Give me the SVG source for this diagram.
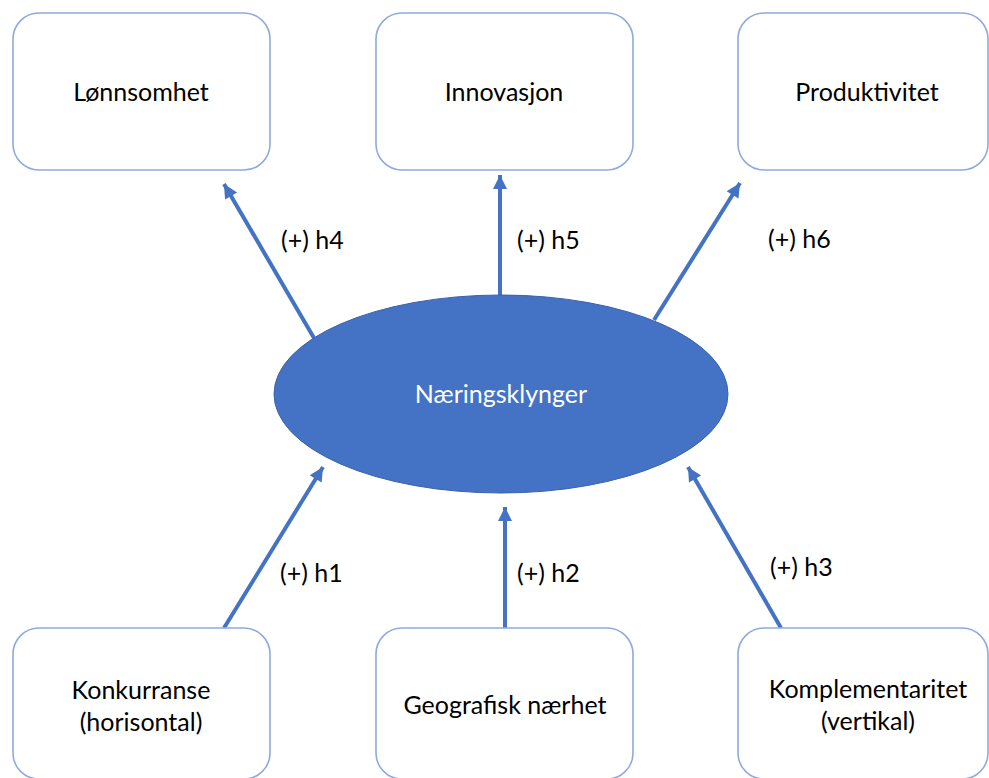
<svg xmlns="http://www.w3.org/2000/svg" width="989" height="778" viewBox="0 0 989 778">
<style>
.box{fill:#ffffff;stroke:#8FAADC;stroke-width:1.6}
.t{font-family:Lato,"Liberation Sans",sans-serif;font-size:25px;fill:#000000;text-anchor:middle}
.lbl{font-family:Lato,"Liberation Sans",sans-serif;font-size:25px;fill:#000000}
.wt{font-family:Lato,"Liberation Sans",sans-serif;font-size:25px;fill:#ffffff;text-anchor:middle}
.c{stroke:#4472C4;stroke-width:4;fill:none;marker-end:url(#ah)}
</style>
<defs>
<marker id="ah" markerUnits="userSpaceOnUse" markerWidth="16" markerHeight="16" viewBox="0 0 16 16" refX="15" refY="8" orient="auto">
<path d="M1,1 L15,8 L1,15 Z" fill="#4472C4"/>
</marker>
</defs>
<rect width="989" height="778" fill="#ffffff"/>
<g id="connectors">
<line class="c" x1="314" y1="338" x2="224" y2="184"/>
<line class="c" x1="500" y1="295" x2="500" y2="175"/>
<line class="c" x1="654" y1="320" x2="740" y2="183"/>
<line class="c" x1="224" y1="628" x2="323" y2="467"/>
<line class="c" x1="505" y1="628" x2="505" y2="507"/>
<line class="c" x1="781" y1="628" x2="688" y2="467"/>
<text class="lbl" x="281" y="249">(+) h4</text>
<text class="lbl" x="517" y="249">(+) h5</text>
<text class="lbl" x="768" y="248">(+) h6</text>
<text class="lbl" x="280" y="582">(+) h1</text>
<text class="lbl" x="517" y="582">(+) h2</text>
<text class="lbl" x="770" y="576">(+) h3</text>
</g>
<g id="lonnsomhet">
<rect class="box" x="13" y="13" width="257" height="157" rx="26"/>
<text class="t" x="141" y="101">Lønnsomhet</text>
</g>
<g id="innovasjon">
<rect class="box" x="376" y="13" width="257" height="157" rx="26"/>
<text class="t" x="504" y="101">Innovasjon</text>
</g>
<g id="produktivitet">
<rect class="box" x="738" y="13" width="250" height="157" rx="26"/>
<text class="t" x="867" y="101">Produktivitet</text>
</g>
<g id="naeringsklynger">
<ellipse cx="501" cy="394" rx="227" ry="99" fill="#4472C4" stroke="#3B62AA" stroke-width="1"/>
<text class="wt" x="501" y="403">Næringsklynger</text>
</g>
<g id="konkurranse">
<rect class="box" x="13" y="628" width="257" height="151" rx="26"/>
<text class="t" x="141" y="699">Konkurranse</text>
<text class="t" x="141" y="731">(horisontal)</text>
</g>
<g id="geografisk">
<rect class="box" x="376" y="628" width="257" height="151" rx="26"/>
<text class="t" x="505" y="714">Geografisk nærhet</text>
</g>
<g id="komplementaritet">
<rect class="box" x="738" y="628" width="250" height="151" rx="26"/>
<text class="t" x="868" y="698">Komplementaritet</text>
<text class="t" x="868" y="730">(vertikal)</text>
</g>
</svg>
